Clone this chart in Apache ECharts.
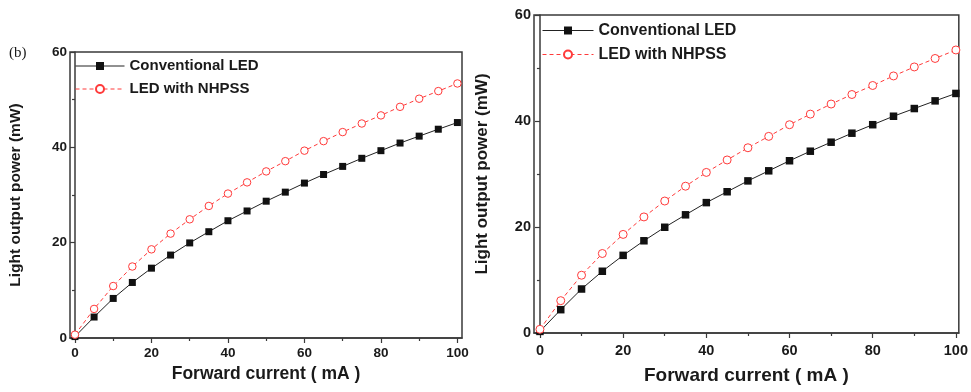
<!DOCTYPE html>
<html>
<head>
<meta charset="utf-8">
<script src="https://cdn.jsdelivr.net/npm/echarts@6/dist/echarts.min.js"></script>
<style>html,body{margin:0;padding:0;background:#fff;}#c{width:971px;height:392px;}</style>
</head>
<body>
<div id="c"></div>
<script>
const current = [0,5,10,15,20,25,30,35,40,45,50,55,60,65,70,75,80,85,90,95,100];
const conventional = [0.3,4.4,8.3,11.65,14.65,17.4,19.95,22.3,24.6,26.65,28.7,30.6,32.5,34.3,36.0,37.7,39.3,40.9,42.35,43.8,45.2];
const nhpss = [0.7,6.1,10.9,15.0,18.6,21.9,24.9,27.7,30.3,32.65,34.95,37.1,39.3,41.3,43.2,45.0,46.7,48.5,50.2,51.8,53.4];
const xMajorTicks = [0,20,40,60,80,100];
const xMinorTicks = [10,30,50,70,90];
const seriesNames = ['Conventional LED','LED with NHPSS'];
const xTitle = 'Forward current ( mA )';
const yTitle = 'Light output power (mW)';
const panelLabel = '(b)';

const RED = '#ff3a3a';
const INK = '#1a1a1a';
const FONT = 'Liberation Sans, Arial, sans-serif';

function pairs(ys){ return current.map((x,i)=>[x, ys[i]]); }

const panels = [
  {grid:{left:70, width:392, top:52, bottom:54}, xmin:-1.3, xmax:101.2, tickFont:13.5, titleFontX:17.5, titleFontY:15.5, xNameGap:26, yNameGap:46, labelMarginX:8, sym:7, legend:{left:75, top:58.5, itemWidth:49, itemGap:8, font:15}},
  {grid:{left:534, width:428, top:15, bottom:59}, xmin:-1.43, xmax:100.7, tickFont:14.5, titleFontX:19, titleFontY:17, xNameGap:33, yNameGap:43, labelMarginX:10, sym:7.5, legend:{left:542, top:22.5, itemWidth:51, itemGap:8, font:16}}
];

const grid = [], xAxis = [], yAxis = [], series = [], legend = [];
panels.forEach((p, gi) => {
  grid.push(Object.assign({show:true, borderColor:'#3a3a3a', borderWidth:1.5, backgroundColor:'transparent', containLabel:false}, p.grid));
  xAxis.push({
    type:'value', gridIndex:gi, min:p.xmin, max:p.xmax, position:'bottom',
    name:xTitle, nameLocation:'middle', nameGap:p.xNameGap,
    nameTextStyle:{fontFamily:FONT, fontWeight:'bold', fontSize:p.titleFontX, color:INK},
    axisLine:{show:true, onZero:false, lineStyle:{color:'#3a3a3a', width:1.5}},
    axisTick:{show:true, customValues:xMajorTicks, length:5, lineStyle:{color:'#3a3a3a', width:1.2}},
    axisLabel:{show:true, customValues:xMajorTicks, margin:p.labelMarginX, fontFamily:FONT, fontWeight:'bold', fontSize:p.tickFont, color:INK},
    splitLine:{show:false}
  });
  yAxis.push({
    type:'value', gridIndex:gi, min:0, max:60, interval:20,
    name:yTitle, nameLocation:'middle', nameGap:p.yNameGap, nameRotate:90,
    nameTextStyle:{fontFamily:FONT, fontWeight:'bold', fontSize:p.titleFontY, color:INK},
    axisLine:{show:true, lineStyle:{color:'#3a3a3a', width:1.5}},
    axisTick:{show:true, length:5, lineStyle:{color:'#3a3a3a', width:1.2}},
    minorTick:{show:true, splitNumber:2, length:3, lineStyle:{color:'#3a3a3a', width:1.2}},
    axisLabel:{margin:3, fontFamily:FONT, fontWeight:'bold', fontSize:p.tickFont, color:INK},
    splitLine:{show:false}
  });
});
// minor x ticks via extra axes
panels.forEach((p, gi) => {
  xAxis.push({
    type:'value', gridIndex:gi, min:p.xmin, max:p.xmax, position:'bottom',
    axisLine:{show:false, onZero:false},
    axisTick:{show:true, customValues:xMinorTicks, length:3, lineStyle:{color:'#3a3a3a', width:1.2}},
    axisLabel:{show:false},
    splitLine:{show:false}
  });
});
panels.forEach((p, gi) => {
  series.push({
    name:seriesNames[0], type:'line', xAxisIndex:gi, yAxisIndex:gi, data:pairs(conventional),
    symbol:'rect', symbolSize:p.sym, showAllSymbol:true,
    lineStyle:{color:'#222', width:1, type:'solid'},
    itemStyle:{color:'#111', borderColor:'#111', borderWidth:0},
    animation:false, z:2
  });
  series.push({
    name:seriesNames[1], type:'line', xAxisIndex:gi, yAxisIndex:gi, data:pairs(nhpss),
    symbol:'circle', symbolSize:p.sym+0.5, showAllSymbol:true,
    lineStyle:{color:RED, width:1, type:[4,3]},
    itemStyle:{color:'#fff', borderColor:RED, borderWidth:1},
    animation:false, z:3
  });
  legend.push({
    orient:'vertical', left:p.legend.left, top:p.legend.top, padding:0,
    itemWidth:p.legend.itemWidth, itemHeight:10, itemGap:p.legend.itemGap,
    data:seriesNames, selectedMode:false,
    lineStyle:{width:1},
    textStyle:{fontFamily:FONT, fontWeight:'bold', fontSize:p.legend.font, color:INK}
  });
});

const chart = echarts.init(document.getElementById('c'), null, {renderer:'canvas'});
chart.setOption({
  backgroundColor:'#ffffff',
  animation:false,
  title:{text:panelLabel, left:9, top:46, padding:0, textStyle:{fontFamily:'Liberation Serif, Times New Roman, serif', fontWeight:'normal', fontSize:15, color:INK}},
  grid, xAxis, yAxis, series, legend
});
</script>
</body>
</html>
